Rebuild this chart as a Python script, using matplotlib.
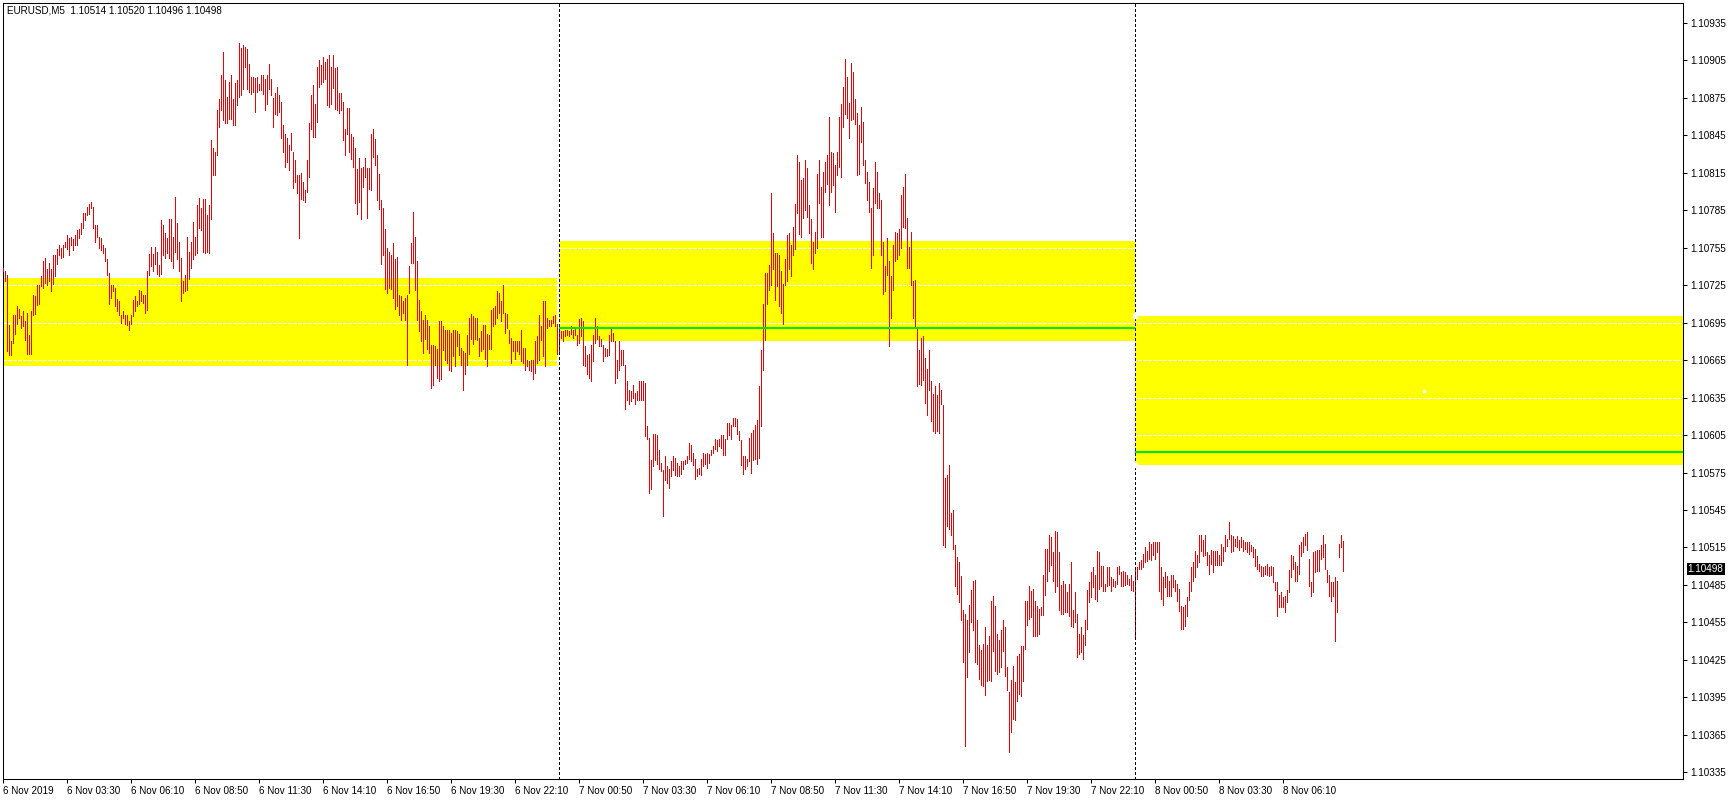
import matplotlib
matplotlib.use("Agg")
import matplotlib.pyplot as plt
from matplotlib.patches import Rectangle
import numpy as np

plt.rcParams['font.family'] = ['Liberation Sans', 'DejaVu Sans']

# EURUSD M5 bars, high / low in points above 1.10000
nov6_high = [739, 736, 733, 693, 680, 701, 701, 708, 706, 700, 704, 696, 703, 685, 704, 717, 716, 725, 725, 732,
             744, 747, 738, 743, 738, 749, 749, 754, 757, 755, 757, 760, 765, 763, 764, 762, 765, 769, 770, 775,
             783, 783, 788, 790, 792, 788, 773, 773, 764, 763, 757, 755, 746, 735, 725, 725, 723, 714, 712, 701,
             704, 701, 701, 696, 701, 713, 716, 712, 721, 720, 717, 717, 736, 750, 756, 750, 756, 752, 741, 777,
             773, 767, 763, 778, 778, 764, 796, 775, 760, 747, 728, 733, 764, 752, 760, 776, 764, 789, 795, 787,
             794, 794, 781, 789, 841, 835, 832, 865, 874, 893, 912, 889, 876, 888, 893, 874, 887, 889, 919, 915,
             917, 916, 914, 902, 892, 892, 891, 892, 886, 893, 893, 890, 893, 902, 890, 875, 879, 884, 877, 872,
             853, 846, 843, 837, 847, 832, 825, 813, 813, 815, 808, 801, 825, 855, 877, 885, 870, 900, 905, 901,
             908, 904, 906, 909, 900, 909, 899, 900, 879, 879, 872, 850, 867, 867, 846, 844, 835, 818, 827, 819,
             820, 827, 819, 819, 846, 850, 842, 829, 814, 793, 787, 770, 755, 752, 749, 759, 746, 748, 717, 716,
             712, 715, 717, 740, 759, 784, 764, 744, 713, 704, 697, 701, 697, 692, 677, 677, 676, 674, 696, 696,
             692, 689, 689, 689, 687, 689, 689, 688, 686, 675, 672, 671, 685, 699, 702, 700, 699, 699, 683, 688,
             693, 693, 686, 685, 705, 707, 708, 720, 719, 712, 725, 703, 702, 689, 683, 680, 680, 680, 680, 689,
             675, 675, 665, 664, 665, 665, 680, 684, 701, 692, 712, 712, 699, 697, 697, 700, 701, 694]
nov6_low = [736, 728, 672, 669, 669, 679, 686, 694, 699, 691, 692, 681, 670, 670, 670, 701, 702, 709, 710, 724,
            723, 727, 725, 728, 720, 726, 732, 742, 749, 747, 748, 756, 754, 749, 757, 753, 757, 757, 763, 766,
            771, 777, 781, 782, 787, 771, 760, 764, 755, 753, 751, 744, 733, 710, 715, 720, 708, 704, 701, 695,
            699, 694, 693, 689, 694, 700, 704, 708, 710, 712, 711, 703, 705, 733, 740, 736, 742, 734, 732, 734,
            749, 747, 751, 747, 744, 739, 752, 746, 736, 712, 719, 720, 721, 730, 739, 746, 749, 751, 771, 769,
            752, 751, 752, 751, 778, 813, 813, 829, 852, 865, 857, 855, 855, 858, 858, 853, 853, 869, 876, 877,
            882, 900, 882, 880, 878, 880, 864, 880, 881, 881, 878, 865, 870, 882, 877, 852, 862, 861, 864, 843,
            832, 820, 824, 817, 833, 803, 808, 799, 763, 794, 793, 792, 800, 812, 850, 844, 844, 856, 884, 886,
            888, 890, 869, 868, 870, 883, 866, 865, 863, 865, 841, 829, 846, 832, 826, 820, 791, 782, 792, 778,
            804, 812, 779, 802, 801, 828, 821, 793, 786, 742, 749, 722, 719, 723, 722, 715, 706, 708, 701, 697,
            703, 697, 661, 719, 743, 743, 721, 697, 688, 680, 671, 682, 674, 671, 643, 645, 661, 651, 648, 650,
            673, 665, 663, 657, 656, 668, 660, 676, 669, 661, 641, 654, 661, 670, 682, 678, 682, 681, 668, 672,
            674, 666, 660, 674, 674, 692, 694, 699, 703, 696, 703, 687, 691, 679, 663, 672, 666, 672, 670, 664,
            663, 657, 660, 657, 656, 650, 655, 663, 665, 681, 668, 660, 691, 692, 692, 695, 692, 670]

nov7_high = [689, 688, 688, 689, 689, 688, 692, 689, 690, 685, 698, 699, 696, 676, 669, 670, 677, 685, 699, 692,
             684, 682, 677, 675, 674, 685, 691, 687, 680, 665, 680, 673, 673, 661, 648, 641, 640, 645, 639, 640,
             648, 648, 648, 647, 612, 603, 585, 606, 606, 605, 593, 583, 577, 588, 580, 578, 584, 588, 587, 583,
             580, 584, 584, 585, 588, 599, 597, 591, 586, 578, 579, 586, 591, 590, 591, 590, 593, 596, 602, 601,
             602, 605, 605, 602, 615, 615, 613, 619, 619, 618, 608, 601, 588, 588, 586, 603, 607, 609, 613, 617,
             644, 673, 710, 735, 735, 741, 799, 767, 751, 751, 749, 736, 726, 746, 765, 767, 757, 772, 790, 829,
             824, 809, 811, 825, 819, 789, 778, 760, 768, 814, 825, 804, 816, 824, 829, 860, 832, 831, 821, 832,
             860, 870, 884, 906, 892, 871, 903, 896, 874, 863, 853, 868, 856, 825, 816, 808, 787, 803, 824, 816,
             799, 793, 760, 740, 763, 744, 732, 757, 768, 767, 770, 797, 804, 814, 779, 756, 768, 728, 729, 691,
             673, 683, 684, 667, 658, 673, 648, 638, 644, 637, 647, 641, 629, 571, 573, 581, 543, 545, 517, 507,
             503, 492, 465, 462, 457, 469, 481, 488, 489, 457, 437, 433, 438, 451, 437, 444, 472, 476, 468, 446,
             441, 449, 457, 451, 419, 399, 409, 420, 407, 428, 430, 436, 436, 472, 472, 484, 480, 482, 472, 468,
             466, 467, 493, 514, 514, 525, 523, 511, 528, 527, 511, 485, 488, 486, 479, 486, 503, 465, 479, 462,
             446, 451, 445, 457, 481, 487, 495, 499, 493, 512, 511, 500, 500, 486, 499, 499, 491, 490, 488, 499,
             500, 495, 496, 495, 493, 490, 493, 488]
nov7_low = [672, 683, 680, 684, 685, 684, 686, 683, 685, 677, 679, 684, 661, 660, 654, 651, 648, 664, 679, 682,
            676, 676, 664, 668, 668, 669, 680, 680, 647, 651, 657, 661, 661, 626, 633, 630, 632, 635, 630, 633,
            633, 633, 633, 604, 602, 559, 562, 580, 585, 582, 578, 576, 540, 569, 567, 563, 572, 577, 573, 572,
            572, 574, 578, 582, 583, 586, 584, 581, 570, 572, 574, 573, 580, 582, 579, 583, 589, 591, 594, 592,
            596, 595, 589, 589, 602, 605, 602, 612, 612, 606, 601, 581, 574, 578, 580, 584, 575, 585, 586, 582,
            587, 612, 657, 681, 710, 721, 725, 738, 713, 724, 708, 703, 694, 725, 728, 738, 732, 749, 754, 783,
            766, 764, 779, 785, 780, 767, 743, 738, 751, 755, 791, 764, 764, 800, 806, 789, 800, 805, 784, 813,
            820, 812, 852, 862, 859, 843, 857, 858, 854, 813, 814, 840, 821, 807, 793, 784, 739, 749, 791, 787,
            787, 749, 718, 720, 733, 676, 699, 721, 744, 746, 749, 755, 772, 771, 739, 739, 725, 699, 691, 644,
            646, 645, 649, 631, 621, 641, 616, 608, 607, 608, 607, 630, 517, 515, 532, 530, 525, 514, 484, 478,
            471, 457, 423, 356, 411, 431, 455, 449, 423, 422, 410, 405, 404, 397, 408, 409, 408, 432, 416, 414,
            415, 419, 432, 412, 401, 351, 367, 378, 377, 392, 398, 396, 408, 434, 453, 458, 459, 444, 444, 444,
            446, 461, 461, 477, 488, 496, 501, 488, 479, 484, 465, 462, 462, 463, 463, 460, 452, 451, 455, 427,
            430, 431, 426, 437, 450, 471, 475, 483, 474, 472, 482, 484, 480, 480, 484, 485, 480, 484, 483, 486,
            494, 484, 484, 485, 486, 485, 481, 480]

nov8_high = [497, 499, 503, 505, 510, 515, 512, 519, 518, 519, 519, 519, 519, 499, 491, 495, 492, 488, 493, 493,
             489, 486, 482, 468, 467, 469, 475, 487, 499, 503, 512, 509, 525, 525, 521, 525, 511, 509, 513, 512,
             512, 512, 509, 518, 515, 525, 522, 535, 525, 524, 522, 524, 521, 523, 521, 519, 519, 519, 517, 515,
             514, 508, 502, 500, 499, 500, 502, 499, 500, 499, 487, 487, 477, 479, 475, 476, 481, 497, 509, 508,
             503, 500, 517, 519, 523, 526, 527, 506, 487, 511, 512, 513, 513, 517, 525, 518, 497, 493, 487, 487,
             491, 488, 518, 525, 520]
nov8_low = [444, 490, 498, 498, 499, 503, 504, 506, 505, 509, 506, 511, 480, 474, 469, 483, 476, 476, 476, 483,
            480, 472, 464, 450, 450, 452, 460, 473, 480, 488, 491, 499, 503, 512, 508, 509, 501, 494, 502, 495,
            501, 501, 501, 501, 504, 512, 516, 522, 511, 512, 516, 515, 513, 515, 512, 514, 511, 510, 512, 507,
            500, 498, 496, 492, 492, 494, 493, 492, 493, 487, 481, 460, 467, 467, 467, 463, 471, 479, 491, 498,
            488, 488, 494, 508, 511, 517, 513, 484, 476, 479, 495, 496, 496, 506, 507, 498, 487, 476, 472, 476,
            440, 463, 507, 515, 496]

time_labels = ["6 Nov 2019", "6 Nov 03:30", "6 Nov 06:10", "6 Nov 08:50", "6 Nov 11:30", "6 Nov 14:10",
               "6 Nov 16:50", "6 Nov 19:30", "6 Nov 22:10", "7 Nov 00:50", "7 Nov 03:30", "7 Nov 06:10",
               "7 Nov 08:50", "7 Nov 11:30", "7 Nov 14:10", "7 Nov 16:50", "7 Nov 19:30", "7 Nov 22:10",
               "8 Nov 00:50", "8 Nov 03:30", "8 Nov 06:10"]
price_ticks = [1.10335, 1.10365, 1.10395, 1.10425, 1.10455, 1.10485, 1.10515, 1.10545, 1.10575, 1.10605,
               1.10635, 1.10665, 1.10695, 1.10725, 1.10755, 1.10785, 1.10815, 1.10845, 1.10875, 1.10905, 1.10935]

# day separators (bar index of 7 Nov 00:00 and 8 Nov 00:00)
day_starts = [278, 566]
# yellow zones: first bar, last bar, low, high
zones = [(-1, 277, 1.106605, 1.107307), (278, 566, 1.106803, 1.107604), (566, 842, 1.105808, 1.107003)]
# green level lines: first bar, last bar, price
levels = [(278, 566, 1.10691), (566, 842, 1.105912)]
title = "EURUSD,M5  1.10514 1.10520 1.10496 1.10498"
last_price = 1.10498

highs = 1.1 + np.array(nov6_high + nov7_high + nov8_high) / 1e5
lows = 1.1 + np.array(nov6_low + nov7_low + nov8_low) / 1e5
x = np.arange(len(highs))

fig = plt.figure(figsize=(17.29, 8.0), dpi=100)
ax = fig.add_axes([2.5 / 1729, 21 / 800, 1680.5 / 1729, 776.5 / 800])
ymin, ymax = 1.103296, 1.109514
ax.set_xlim(-0.25, 840)
ax.set_ylim(ymin, ymax)

for x0, x1, lo, hi in zones:
    ax.add_patch(Rectangle((x0, lo), x1 - x0, hi - lo, facecolor='#ffff00', edgecolor='none', zorder=1))

for p in price_ticks:
    ax.axhline(p, color='white', lw=0.7, dashes=(4, 2), antialiased=False, zorder=2)

ax.vlines(x, lows, highs, colors='#f00000', linewidth=0.55, antialiased=False, zorder=3)

# separators: black on white, blue where they cross the zone that starts there
for d, z in zip(day_starts, zones[1:]):
    lo, hi = z[2], z[3]
    ax.vlines([d, d], [ymin, hi], [lo, ymax], colors='black', linewidth=0.7,
              linestyles=(0, (3, 3)), antialiased=False, zorder=4)
    ax.vlines([d], [lo], [hi], colors='#0000ff', linewidth=0.7,
              linestyles=(0, (3, 3)), antialiased=False, zorder=4)

for x0, x1, p in levels:
    ax.plot([x0, x1], [p, p], color='#00e600', lw=1.5, solid_capstyle='butt', zorder=5)

# selection handles of the last zone
ax.plot([566, 566], [zones[2][3], zones[2][2]], 's', ms=2.5, mfc='white', mec='white', zorder=6)
ax.plot([710.25], [1.106403], 's', ms=2, mfc='white', mec='white', zorder=6)

ax.set_xticks(np.arange(len(time_labels)) * 32)
ax.set_xticklabels(time_labels, ha='left', fontsize=7.1)
ax.set_yticks(price_ticks)
ax.set_yticklabels(['%.5f' % p for p in price_ticks], fontsize=7.1)
ax.yaxis.tick_right()
ax.tick_params(axis='both', direction='out', length=3, width=0.75, color='black', pad=2)
for s in ax.spines.values():
    s.set_linewidth(0.75)
    s.set_color('black')

ax.text(1.0028, last_price, '%.5f' % last_price, transform=ax.get_yaxis_transform(), ha='left',
        va='center', fontsize=7.1, color='white', clip_on=False,
        bbox=dict(boxstyle='square,pad=0.12', fc='black', ec='none'))
fig.text(7 / 1729, 1 - 10.7 / 800, title, ha='left', va='center', fontsize=7.1, color='black')

fig.savefig('out.png', dpi=100, facecolor='white')
